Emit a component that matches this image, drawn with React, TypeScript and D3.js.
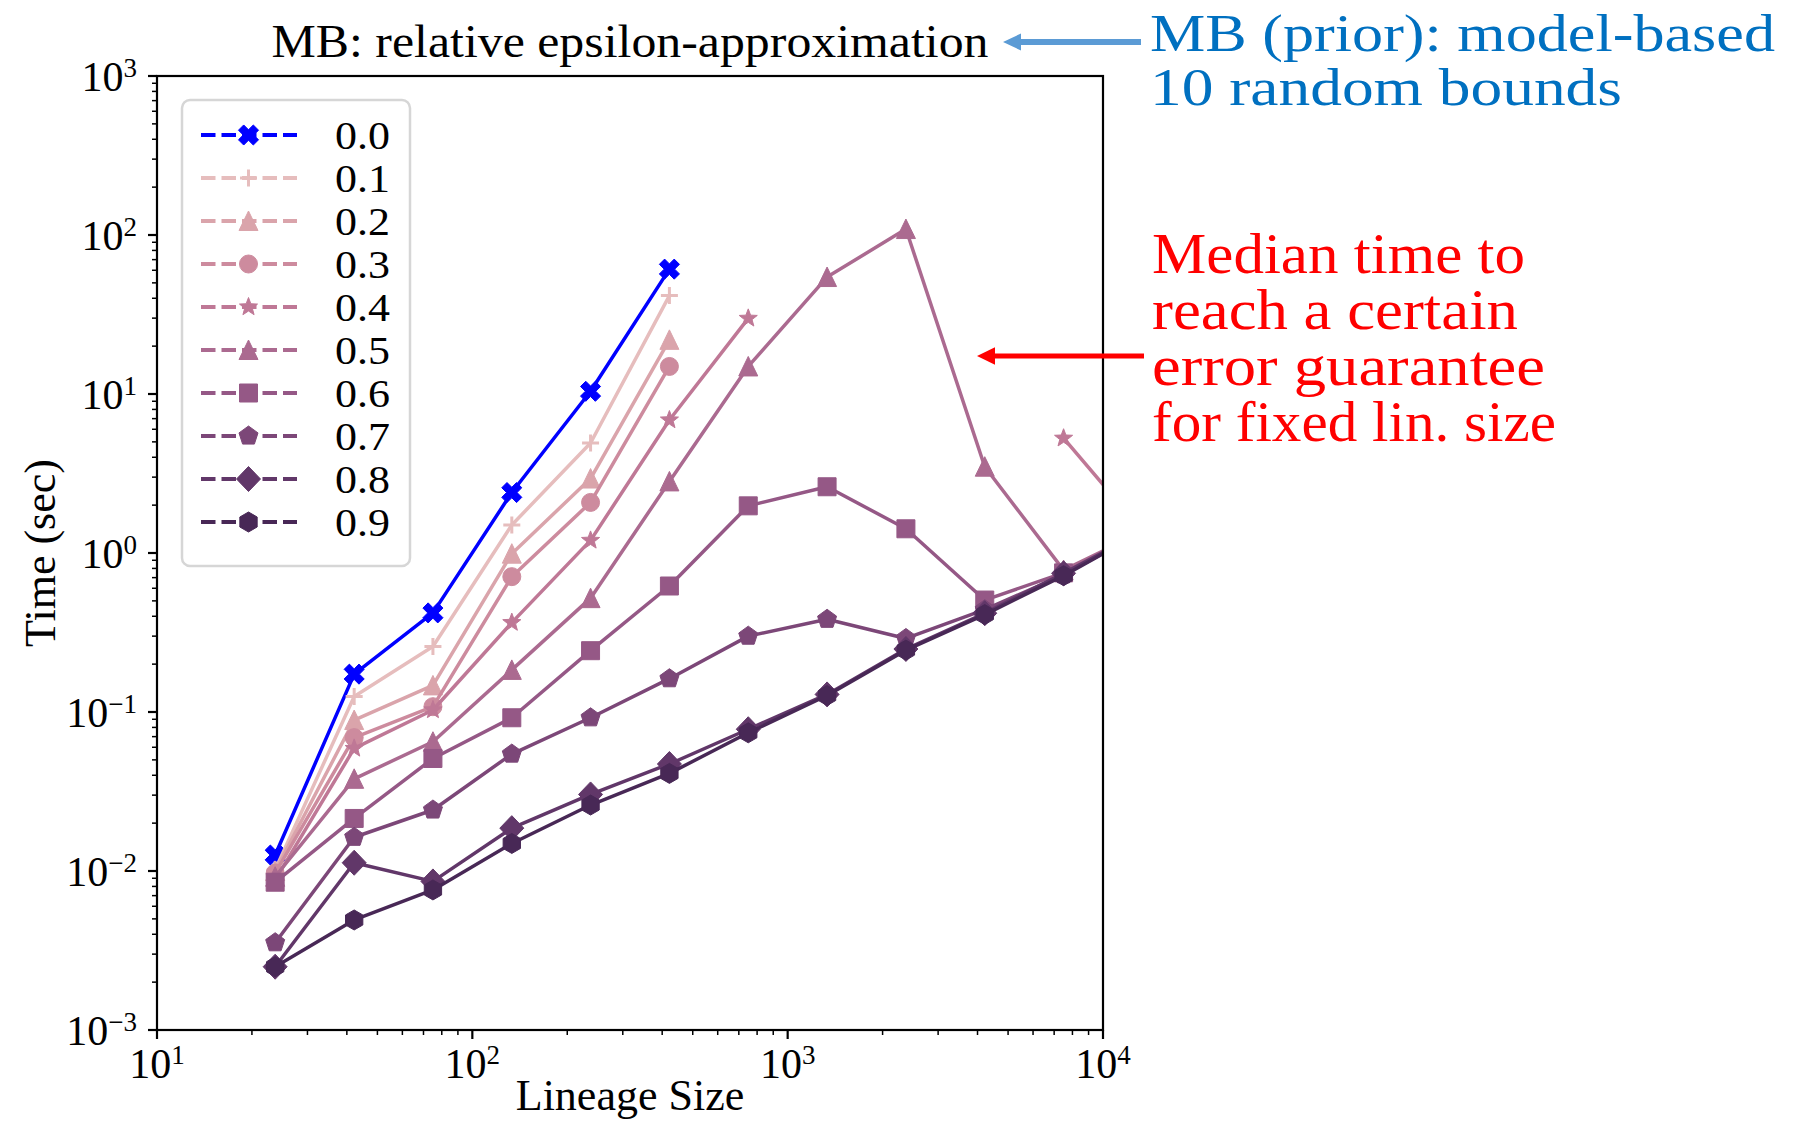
import React from 'react';
import * as d3 from 'd3';

// ---------- data ----------
const lineageSizes = [23.7, 42.2, 75.0, 133.4, 237.1, 421.7, 749.9, 1333.5, 2371.4, 4217.0, 7498.9, 13335.2];
const epsLabels = ['0.0', '0.1', '0.2', '0.3', '0.4', '0.5', '0.6', '0.7', '0.8', '0.9'];
const eps00 = [0.0126, 0.173, 0.42, 2.40, 10.4, 61, null, null, null, null, null, null];
const eps01 = [0.0102, 0.125, 0.258, 1.50, 4.92, 41.6, null, null, null, null, null, null];
const eps02 = [0.0100, 0.089, 0.147, 0.99, 2.94, 21.9, null, null, null, null, null, null];
const eps03 = [0.0097, 0.069, 0.108, 0.71, 2.08, 14.9, null, null, null, null, null, null];
const eps04 = [0.0088, 0.059, 0.103, 0.365, 1.20, 6.86, 29.9, null, null, null, 5.27, 1.38];
const eps05 = [0.0092, 0.038, 0.065, 0.184, 0.52, 2.82, 14.9, 54.4, 109, 3.49, 0.78, 1.36];
const eps06 = [0.0085, 0.0214, 0.051, 0.092, 0.243, 0.62, 1.98, 2.61, 1.42, 0.506, 0.75, 1.36];
const eps07 = [0.00354, 0.0163, 0.0242, 0.0544, 0.092, 0.162, 0.30, 0.383, 0.29, 0.44, 0.73, 1.36];
const eps08 = [0.0025, 0.01127, 0.0086, 0.0186, 0.0303, 0.0471, 0.0779, 0.129, 0.249, 0.418, 0.745, 1.36];
const eps09 = [0.0025, 0.00492, 0.0076, 0.0149, 0.026, 0.0411, 0.074, 0.127, 0.245, 0.41, 0.72, 1.36];
const seriesValues = [eps00, eps01, eps02, eps03, eps04, eps05, eps06, eps07, eps08, eps09];
const seriesColors = ['#0000ff', '#e6bdbd', '#daa4ab', '#cd8b9e', '#bf7896', '#ab6a90', '#955886', '#7c4778', '#613769', '#482856'];
const seriesMarkers = ['X', 'plus', 'tri', 'circle', 'star', 'tri', 'square', 'pentagon', 'diamond', 'hexagon'];

const xTickExps = [1, 2, 3, 4];
const yTickExps = [-3, -2, -1, 0, 1, 2, 3];

const titleText = 'MB: relative epsilon-approximation';
const xLabel = 'Lineage Size';
const yLabel = 'Time (sec)';
const blueNote = ['MB (prior): model-based', '10 random bounds'];
const redNote = ['Median time to', 'reach a certain', 'error guarantee', 'for fixed lin. size'];

// ---------- layout ----------
const W = 1798;
const H = 1121;
const PL = 157, PR = 1103, PT = 76, PB = 1030;
const FONT = "'Liberation Serif', 'Times New Roman', serif";

function poly(n: number, r: number, rot: number) {
  const pts: string[] = [];
  for (let i = 0; i < n; i++) {
    const a = rot + (i * 2 * Math.PI) / n;
    pts.push(`${(r * Math.sin(a)).toFixed(2)},${(-r * Math.cos(a)).toFixed(2)}`);
  }
  return 'M' + pts.join('L') + 'Z';
}

function markerPath(kind: string) {
  switch (kind) {
    case 'X': {
      const L = 10.5, w = 3.7;
      const base = [[w, w], [w, L], [-w, L], [-w, w], [-L, w], [-L, -w], [-w, -w], [-w, -L], [w, -L], [w, -w], [L, -w], [L, w]];
      const c = Math.cos(Math.PI / 4), s = Math.sin(Math.PI / 4);
      return 'M' + base.map(([x, y]) => `${(x * c - y * s).toFixed(2)},${(x * s + y * c).toFixed(2)}`).join('L') + 'Z';
    }
    case 'plus':
      return 'M-8.5,0H8.5M0,-8.5V8.5';
    case 'tri':
      return 'M0,-10L9.5,9.5L-9.5,9.5Z';
    case 'circle':
      return 'M9,0A9,9 0 1,1 -9,0A9,9 0 1,1 9,0Z';
    case 'star': {
      const pts: string[] = [];
      for (let i = 0; i < 10; i++) {
        const r = i % 2 === 0 ? 9.5 : 4;
        const a = (i * Math.PI) / 5;
        pts.push(`${(r * Math.sin(a)).toFixed(2)},${(-r * Math.cos(a)).toFixed(2)}`);
      }
      return 'M' + pts.join('L') + 'Z';
    }
    case 'square':
      return 'M-9,-9H9V9H-9Z';
    case 'pentagon':
      return poly(5, 10, 0);
    case 'diamond':
      return 'M0,-12.5L12,0L0,12.5L-12,0Z';
    case 'hexagon':
      return poly(6, 10, 0);
    default:
      return '';
  }
}

function Marker({ kind, x, y, color }: { kind: string; x: number; y: number; color: string }) {
  if (kind === 'plus') {
    return <path d={markerPath(kind)} transform={`translate(${x},${y})`} fill="none" stroke={color} strokeWidth={3} />;
  }
  return <path d={markerPath(kind)} transform={`translate(${x},${y})`} fill={color} stroke={color} strokeWidth={1} strokeLinejoin="miter" />;
}

export default function App() {
  const x = d3.scaleLog().domain([10, 10000]).range([PL, PR]);
  const y = d3.scaleLog().domain([1e-3, 1e3]).range([PB, PT]);

  const line = d3
    .line<[number, number | null]>()
    .defined((d) => d[1] != null)
    .x((d) => x(d[0]))
    .y((d) => y(d[1] as number));

  const xMinor: number[] = [];
  for (let e = 1; e < 4; e++) for (let m = 2; m <= 9; m++) xMinor.push(m * Math.pow(10, e));
  const yMinor: number[] = [];
  for (let e = -3; e < 3; e++) for (let m = 2; m <= 9; m++) yMinor.push(m * Math.pow(10, e));

  const legendRowY = (i: number) => 135 + i * 43;

  return (
    <svg width={W} height={H} style={{ position: 'absolute', left: 0, top: 0, background: '#fff' }} fontFamily={FONT}>
      <defs>
        <clipPath id="plotClip">
          <rect x={PL} y={PT} width={PR - PL} height={PB - PT} />
        </clipPath>
      </defs>
      <rect x={0} y={0} width={W} height={H} fill="#fff" />

      {/* series */}
      <g clipPath="url(#plotClip)">
        {seriesValues.map((vals, si) => {
          const pts = lineageSizes.map((ls, i) => [ls, vals[i]] as [number, number | null]);
          return (
            <g key={si}>
              <path d={line(pts) || ''} fill="none" stroke={seriesColors[si]} strokeWidth={3.5} strokeLinejoin="round" strokeLinecap="round" />
              {pts
                .filter((p) => p[1] != null)
                .map((p, i) => (
                  <Marker key={i} kind={seriesMarkers[si]} x={x(p[0])} y={y(p[1] as number)} color={seriesColors[si]} />
                ))}
            </g>
          );
        })}
      </g>

      {/* spines */}
      <rect x={PL} y={PT} width={PR - PL} height={PB - PT} fill="none" stroke="#000" strokeWidth={2.2} />

      {/* x ticks */}
      {xMinor.map((v) => (
        <line key={'xm' + v} x1={x(v)} x2={x(v)} y1={PB} y2={PB + 5} stroke="#000" strokeWidth={1.5} />
      ))}
      {xTickExps.map((e) => {
        const px = x(Math.pow(10, e));
        return (
          <g key={'xt' + e}>
            <line x1={px} x2={px} y1={PB} y2={PB + 9} stroke="#000" strokeWidth={2.2} />
            <text x={px} y={PB + 48} textAnchor="middle" fontSize={42} fill="#000">
              10<tspan dy={-14} fontSize={27}>{String(e)}</tspan>
            </text>
          </g>
        );
      })}

      {/* y ticks */}
      {yMinor.map((v) => (
        <line key={'ym' + v} x1={PL - 5} x2={PL} y1={y(v)} y2={y(v)} stroke="#000" strokeWidth={1.5} />
      ))}
      {yTickExps.map((e) => {
        const py = y(Math.pow(10, e));
        return (
          <g key={'yt' + e}>
            <line x1={PL - 9} x2={PL} y1={py} y2={py} stroke="#000" strokeWidth={2.2} />
            <text x={137} y={py + 15} textAnchor="end" fontSize={42} fill="#000">
              10<tspan dy={-14} fontSize={27}>{e < 0 ? '\u2212' + String(-e) : String(e)}</tspan>
            </text>
          </g>
        );
      })}

      {/* axis labels & title */}
      <text x={630} y={1110} textAnchor="middle" fontSize={44} fill="#000">{xLabel}</text>
      <text transform="translate(55,553) rotate(-90)" textAnchor="middle" fontSize={44} fill="#000">{yLabel}</text>
      <text x={630} y={57} textAnchor="middle" fontSize={46} fill="#000" textLength={717} lengthAdjust="spacingAndGlyphs">
        {titleText}
      </text>

      {/* legend */}
      <rect x={182} y={100} width={228} height={466} rx={8} ry={8} fill="#fff" fillOpacity={0.85} stroke="#d6d6d6" strokeWidth={2.5} />
      {epsLabels.map((lab, i) => {
        const ry = legendRowY(i);
        return (
          <g key={'lg' + i}>
            <line x1={201} x2={297} y1={ry} y2={ry} stroke={seriesColors[i]} strokeWidth={4} strokeDasharray="14.5 6" />
            <Marker kind={seriesMarkers[i]} x={248.5} y={ry} color={seriesColors[i]} />
            <text x={335} y={ry + 14} fontSize={40} fill="#000" textLength={55} lengthAdjust="spacingAndGlyphs">{lab}</text>
          </g>
        );
      })}

      {/* blue annotation */}
      <line x1={1141} x2={1016} y1={42} y2={42} stroke="#5b9bd5" strokeWidth={6} />
      <path d="M1003,42L1021,33.5L1021,50.5Z" fill="#5b9bd5" />
      <text x={1150} y={51} fontSize={52} fill="#0070c0" textLength={625} lengthAdjust="spacingAndGlyphs">{blueNote[0]}</text>
      <text x={1150} y={105} fontSize={52} fill="#0070c0" textLength={472} lengthAdjust="spacingAndGlyphs">{blueNote[1]}</text>

      {/* red annotation */}
      <line x1={1144} x2={990} y1={356} y2={356} stroke="#ff0000" strokeWidth={5} />
      <path d="M977,356L995,347.3L995,364.7Z" fill="#ff0000" />
      {redNote.map((t, i) => (
        <text key={'rn' + i} x={1152} y={273 + i * 56} fontSize={56} fill="#ff0000" textLength={[373, 366, 393, 404][i]} lengthAdjust="spacingAndGlyphs">
          {t}
        </text>
      ))}
    </svg>
  );
}
